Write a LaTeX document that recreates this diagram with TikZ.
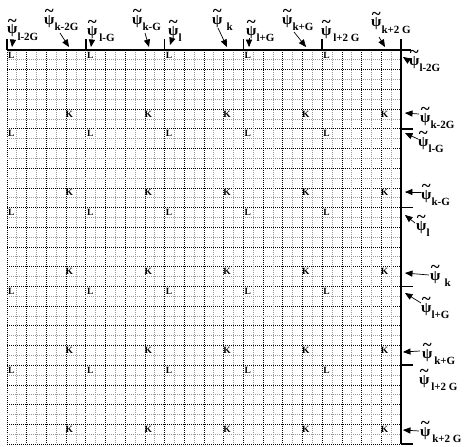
\documentclass[tikz,border=0pt]{standalone}
\usepackage{fontspec}
\setmainfont{Liberation Serif}
\usetikzlibrary{arrows}

% tilde psi with a lowered index
\newcommand{\wf}[1]{{\fontsize{15}{15}\selectfont\ooalign{ψ\cr\hidewidth\raisebox{7.5pt}{\fontsize{17}{17}\selectfont\textasciitilde}\hidewidth\cr}}{\fontsize{11}{11}\selectfont\raisebox{-6pt}{#1}}}

\begin{document}
\begin{tikzpicture}[x=1pt,y=-1pt,
  major/.style={line width=.8pt,dash pattern=on .9pt off 1.1pt},
  minor/.style={major,gray!80},
  edge/.style={line width=1.2pt},
  tick/.style={line width=1.6pt},
  site/.style={inner sep=0pt,anchor=west,font=\bfseries\fontsize{9.5}{9.5}\selectfont},
  wave/.style={inner sep=0pt,anchor=base west,font=\bfseries},
  pointer/.style={line width=.7pt,-{triangle 45}}
]
  \useasboundingbox (0,0) rectangle (466,447);

  % mesh
  \foreach \i in {0,...,40}{
    \ifodd\i \def\lw{minor}\else\def\lw{major}\fi
    \draw[\lw] (7+9.85*\i,50) -- (7+9.85*\i,444);
    \draw[\lw] (7,50+9.85*\i) -- (401,50+9.85*\i);
  }
  \draw[edge] (7,50) -- (411,50);
  \draw[edge] (401,50) -- (401,444);
  \foreach \b in {0,...,5}
    \draw[tick] (7+78.8*\b,50) -- (7+78.8*\b,39);
  \foreach \b in {1,...,5}
    \draw[tick] (401,50+78.8*\b) -- (413,50+78.8*\b);

  % sites
  \foreach \bx in {0,...,4}
    \foreach \by in {0,...,4}{
      \node[site] (L\bx\by) at (8+78.8*\bx,55+78.8*\by) {L};
      \node[site] (K\bx\by) at (65.5+78.8*\bx,114+78.8*\by) {K};
    }

  % labels along the top
  \node[wave] (tlm2) at (7,34)   {\wf{l-2G}};
  \node[wave] (tkm2) at (44,24)  {\wf{k-2G}};
  \node[wave] (tlm1) at (87,35)  {\wf{\,l-G}};
  \node[wave] (tkm1) at (132,24) {\wf{k-G}};
  \node[wave] (tl0)  at (168,35) {\wf{l}};
  \node[wave] (tk0)  at (212,24) {\wf{\hspace{4pt}k}};
  \node[wave] (tlp1) at (246,35) {\wf{l+G}};
  \node[wave] (tkp1) at (282,24) {\wf{k+G}};
  \node[wave] (tlp2) at (321,35) {\wf{\,l+2 G}};
  \node[wave] (tkp2) at (371,27) {\wf{k+2 G}};

  % labels along the right
  \node[wave] (rlm2) at (409,65)  {\wf{l-2G}};
  \node[wave] (rkm2) at (420,122) {\wf{k-2G}};
  \node[wave] (rlm1) at (418,146) {\wf{l-G}};
  \node[wave] (rkm1) at (421,199) {\wf{k-G}};
  \node[wave] (rl0)  at (416,230) {\wf{l}};
  \node[wave] (rk0)  at (430,280) {\wf{\hspace{4pt}k}};
  \node[wave] (rlp1) at (421,312) {\wf{l+G}};
  \node[wave] (rkp1) at (422,358) {\wf{\,k+G}};
  \node[wave] (rlp2) at (419,384) {\wf{\,l+2 G}};
  \node[wave] (rkp2) at (420,436) {\wf{\,k+2 G}};

  % arrow heads
  \foreach \n/\x/\y in {atlm2/12/47,atkm2/69/47,atlm1/91/47,atkm1/149/47,
      atl0/170/45,atk0/227/47,atlp1/249/47,atkp1/306/47,atkp2/385/47,
      arlm2/403/57,arkm2/405/113,arlm1/405/133,arkm1/405/192,
      arl0/405/215,ark0/405/273,arlp1/405/293,arkp1/403/352,arkp2/403/430}
    \coordinate (\n) at (\x,\y);

  \draw[pointer] ([shift={(6,5)}]tlm2.base west) -- (atlm2);
  \draw[pointer] ([shift={(16,9)}]tkm2.base west) -- (atkm2);
  \draw[pointer] ([shift={(5,4)}]tlm1.base west) -- (atlm1);
  \draw[pointer] ([shift={(13,9)}]tkm1.base west) -- (atkm1);
  \draw[pointer] ([shift={(4,4)}]tl0.base west) -- (atl0);
  \draw[pointer] ([shift={(6,4)}]tk0.base west) -- (atk0);
  \draw[pointer] ([shift={(3,3)}]tlp1.base west) -- (atlp1);
  \draw[pointer] ([shift={(12,8)}]tkp1.base west) -- (atkp1);
  \draw[pointer] ([shift={(8,10)}]tkp2.base west) -- (atkp2);

  \draw[pointer] ([shift={(0,-4)}]rlm2.base west) -- (arlm2);
  \draw[pointer] ([shift={(-1,-8)}]rkm2.base west) -- (arkm2);
  \draw[pointer] ([shift={(0,-7)}]rlm1.base west) -- (arlm1);
  \draw[pointer] ([shift={(0,-7)}]rkm1.base west) -- (arkm1);
  \draw[pointer] ([shift={(-1,-7)}]rl0.base west) -- (arl0);
  \draw[pointer] ([shift={(-1,-5)}]rk0.base west) -- (ark0);
  \draw[pointer] ([shift={(0,-9)}]rlp1.base west) -- (arlp1);
  \draw[pointer] ([shift={(-2,-7)}]rkp1.base west) -- (arkp1);
  \draw[pointer] ([shift={(-1,-5)}]rkp2.base west) -- (arkp2);
\end{tikzpicture}
\end{document}
